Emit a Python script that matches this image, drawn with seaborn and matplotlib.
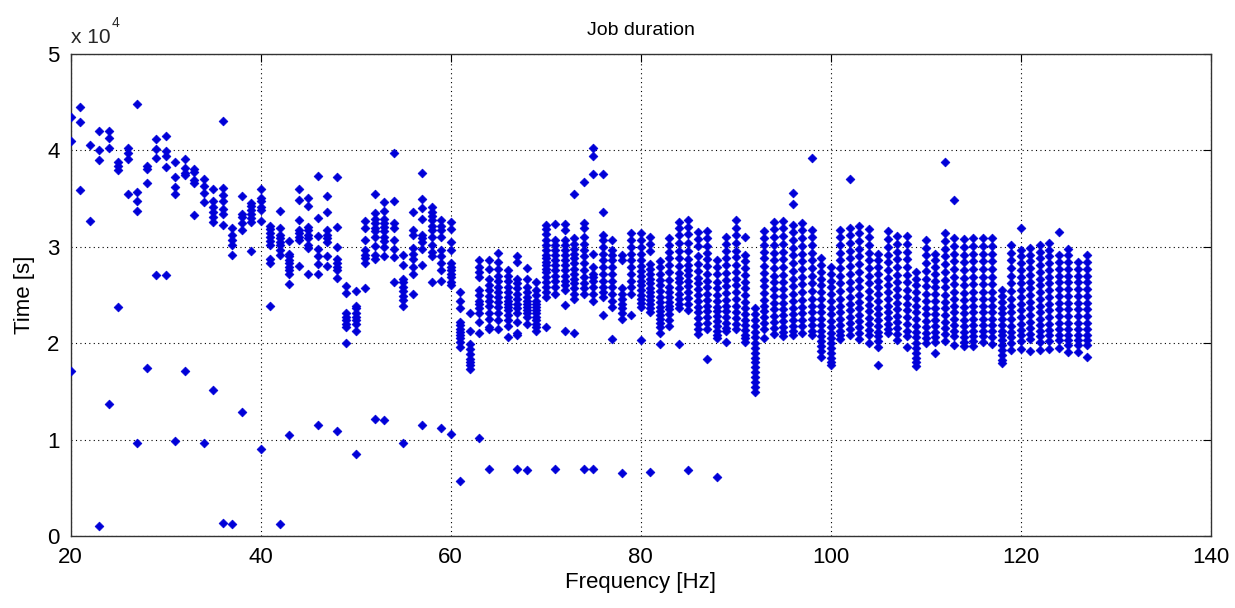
import matplotlib
matplotlib.use("Agg")
import matplotlib.pyplot as plt
import seaborn as sns
import pandas as pd

# Job durations in thousands of seconds, keyed by frequency [Hz]
times_20_39 = {
    20: [43.5, 41.0, 17.1],
    21: [44.5, 42.9, 35.9],
    22: [40.6, 32.7],
    23: [42.0, 40.0, 39.0, 1.0],
    24: [42.0, 41.3, 40.3, 13.7],
    25: [38.8, 38.4, 38.0, 23.8],
    26: [40.3, 39.7, 39.1, 35.5],
    27: [44.8, 35.7, 34.7, 33.7, 9.6],
    28: [38.4, 38.1, 36.6, 17.4],
    29: [41.2, 40.1, 39.2, 27.1],
    30: [41.5, 39.9, 39.4, 38.3, 27.1],
    31: [38.8, 37.2, 36.2, 35.5, 9.9],
    32: [39.1, 38.2, 37.7, 37.4, 17.1],
    33: [38.1, 37.8, 36.9, 36.6, 33.3],
    34: [37.0, 36.3, 35.6, 34.6, 9.7],
    35: [36.0, 34.8, 34.1, 33.6, 33.1, 32.6, 15.1],
    36: [43.1, 36.1, 35.4, 34.8, 33.9, 33.4, 32.3, 1.4],
    37: [32.0, 31.2, 30.7, 30.2, 29.1, 1.2],
    38: [35.3, 33.4, 33.1, 32.5, 31.7, 12.9],
    39: [34.5, 34.2, 33.8, 33.4, 33.0, 32.6, 29.6],
}

times_40_59 = {
    40: [36.0, 35.1, 34.7, 34.1, 33.8, 32.7, 9.0],
    41: [32.2, 31.8, 31.4, 31.0, 30.6, 30.2, 28.7, 28.3, 23.9],
    42: [33.7, 32.0, 31.2, 30.9, 30.5, 30.2, 29.7, 29.2, 1.2],
    43: [30.6, 29.3, 29.0, 28.6, 28.3, 27.9, 27.6, 27.2, 26.1, 10.5],
    44: [36.0, 34.9, 32.8, 31.7, 31.4, 31.0, 30.7, 28.0],
    45: [35.1, 34.2, 32.1, 31.7, 31.2, 30.9, 30.2, 29.9, 27.2],
    46: [37.3, 33.0, 31.1, 29.8, 29.0, 28.2, 27.2, 11.5],
    47: [35.3, 33.6, 31.7, 31.2, 30.9, 30.5, 29.0, 28.0],
    48: [37.2, 32.1, 30.0, 28.7, 28.3, 27.9, 27.6, 26.8, 10.9],
    49: [25.9, 25.2, 23.1, 22.7, 22.4, 22.0, 21.7, 20.0],
    50: [25.4, 23.9, 23.6, 23.1, 22.7, 22.4, 22.0, 21.3, 8.5],
    51: [32.7, 32.0, 30.7, 29.7, 29.2, 28.8, 28.3, 25.7],
    52: [35.5, 33.5, 32.9, 32.5, 32.0, 31.6, 31.0, 30.1, 29.1, 28.7, 12.1],
    53: [34.6, 33.7, 32.9, 32.5, 32.1, 31.6, 31.0, 30.6, 30.0, 29.0, 12.0],
    54: [39.7, 34.7, 32.5, 31.9, 30.7, 29.8, 28.9, 26.4],
    55: [29.1, 28.1, 26.7, 26.3, 25.8, 25.4, 24.9, 24.5, 23.9, 9.7],
    56: [33.6, 31.7, 31.2, 29.9, 29.3, 28.7, 27.9, 27.2, 25.1],
    57: [37.7, 35.0, 34.0, 32.9, 31.2, 30.9, 30.5, 29.8, 28.1, 11.5],
    58: [34.1, 33.6, 33.2, 32.8, 32.2, 31.7, 31.0, 30.2, 29.5, 29.0, 26.3],
    59: [32.8, 32.2, 31.7, 31.0, 29.7, 29.0, 28.3, 27.6, 26.5, 11.2],
}

times_60_79 = {
    60: [32.6, 31.8, 30.5, 29.7, 28.3, 27.9, 27.6, 27.2, 26.9, 26.4, 26.0, 10.6],
    61: [25.3, 24.4, 23.6, 22.2, 21.9, 21.5, 21.2, 20.8, 20.5, 20.1, 19.6, 5.7],
    62: [23.1, 21.3, 19.9, 19.4, 18.9, 18.4, 18.0, 17.7, 17.3],
    63: [28.6, 27.9, 27.4, 26.9, 25.5, 25.0, 24.4, 24.1, 23.6, 23.1, 22.2, 21.1, 10.2],
    64: [28.6, 27.7, 26.7, 26.0, 25.5, 24.9, 24.4, 23.9, 23.1, 22.5, 21.7, 21.5, 6.9],
    65: [29.4, 28.4, 27.7, 27.0, 26.5, 25.8, 25.3, 24.8, 24.3, 23.8, 23.1, 22.4, 21.5],
    66: [27.6, 27.0, 26.5, 25.8, 25.3, 24.8, 24.4, 24.1, 23.8, 23.4, 22.9, 22.4, 21.8, 20.6],
    67: [29.0, 28.4, 26.7, 26.2, 25.7, 25.1, 24.6, 24.1, 23.6, 23.1, 22.2, 21.1, 20.8, 6.9],
    68: [27.8, 26.7, 25.8, 25.3, 24.8, 24.4, 24.1, 23.8, 23.4, 23.1, 22.7, 22.0, 6.8],
    69: [26.3, 25.5, 25.0, 24.4, 24.1, 23.8, 23.4, 23.1, 22.7, 22.4, 22.0, 21.7, 21.3],
    70: [32.3, 31.8, 31.3, 30.7, 30.2, 29.7, 29.1, 28.8, 28.4, 28.1, 27.7, 27.4,
         26.9, 26.4, 25.8, 25.3, 24.8, 21.7],
    71: [32.4, 30.7, 30.2, 29.7, 29.1, 28.6, 28.1, 27.6, 27.0, 26.5, 25.8, 25.1, 7.0],
    72: [32.4, 31.7, 30.7, 30.2, 29.7, 29.1, 28.6, 28.1, 27.6, 27.0, 26.5, 26.0,
         25.5, 24.0, 21.3],
    73: [35.5, 30.9, 30.3, 29.8, 29.3, 28.8, 28.3, 27.7, 27.2, 26.7, 26.2, 25.7,
         25.1, 24.6, 21.1],
    74: [36.7, 32.5, 31.9, 31.0, 30.3, 29.7, 29.0, 28.3, 27.6, 26.9, 26.2, 25.7, 25.1, 7.0],
    75: [40.2, 39.4, 37.6, 29.3, 27.9, 27.2, 26.9, 26.5, 25.8, 25.1, 24.4, 6.9],
    76: [37.6, 33.6, 31.2, 30.7, 30.0, 29.3, 28.6, 27.9, 27.2, 26.5, 25.8, 25.3, 24.8, 22.9],
    77: [30.7, 29.7, 29.1, 28.6, 27.9, 27.2, 26.5, 25.8, 25.1, 24.4, 23.8, 20.4],
    78: [29.1, 28.6, 25.7, 25.1, 24.6, 24.1, 23.6, 23.1, 22.5, 6.5],
    79: [31.4, 30.7, 30.0, 29.3, 28.6, 27.9, 27.2, 26.5, 25.8, 25.1, 22.9],
}

times_80_99 = {
    80: [31.4, 30.7, 30.0, 29.3, 28.6, 28.0, 27.5, 27.0, 26.5, 26.0, 25.5, 25.0, 24.6, 24.2, 23.8, 20.3],
    81: [31.0, 30.3, 29.6, 28.2, 27.7, 27.2, 26.7, 26.2, 25.7, 25.3, 24.9, 24.5, 24.1, 23.7, 23.2, 6.6],
    82: [28.5, 27.9, 27.2, 26.6, 26.0, 25.4, 24.8, 24.3, 23.8, 23.3, 22.9, 22.5, 22.1, 21.7, 21.1, 19.9],
    83: [30.9, 30.2, 29.5, 28.8, 28.1, 27.4, 26.6, 25.8, 25.3, 24.8, 24.3, 23.9, 23.5, 23.0, 22.4, 21.8],
    84: [32.6, 31.9, 31.2, 30.4, 29.6, 28.8, 28.0, 27.3, 26.8, 26.3, 25.7, 25.1, 24.6, 24.1, 23.6, 19.9],
    85: [32.8, 32.1, 31.3, 30.4, 29.6, 28.7, 28.1, 27.6, 27.1, 26.5, 25.9, 25.3, 24.7, 24.1, 23.4, 6.8],
    86: [31.5, 30.8, 30.1, 29.0, 28.2, 27.5, 26.8, 26.2, 25.6, 25.0, 24.4, 23.8, 23.2, 22.6, 22.0, 21.5, 21.0],
    87: [31.6, 30.9, 30.1, 29.4, 28.7, 28.0, 27.2, 26.5, 25.8, 25.1, 24.5, 23.9, 23.3, 22.7, 22.1, 21.5, 18.4],
    88: [28.6, 27.9, 27.2, 26.4, 25.7, 25.0, 24.4, 23.8, 23.3, 22.8, 22.3, 21.8, 21.3, 20.9, 20.5, 6.1],
    89: [31.0, 30.3, 29.6, 28.8, 28.1, 27.3, 26.6, 25.9, 25.2, 24.5, 23.9, 23.3, 22.7, 22.1, 21.6, 21.3, 20.1],
    90: [32.8, 32.0, 31.2, 30.4, 29.6, 28.9, 28.1, 27.4, 26.7, 26.0, 25.3, 24.6, 23.9, 23.2, 22.6, 22.0, 21.5],
    91: [31.0, 29.2, 28.5, 27.8, 27.1, 26.4, 25.7, 25.0, 24.3, 23.6, 23.0, 22.4, 21.9, 21.4, 20.9, 20.5, 20.1],
    92: [23.6, 23.0, 22.4, 21.8, 21.2, 20.6, 20.0, 19.5, 19.0, 18.5, 18.0, 17.5, 17.0, 16.5, 16.0, 15.5, 14.9],
    93: [31.6, 30.9, 30.2, 29.5, 28.8, 28.0, 27.3, 26.6, 25.9, 25.2, 24.5, 23.9, 23.3, 22.7, 22.1, 21.5, 20.5],
    94: [32.6, 31.8, 31.0, 30.2, 29.4, 28.6, 27.8, 27.0, 26.3, 25.6, 24.9, 24.2, 23.5, 22.8, 22.2, 21.6, 21.0],
    95: [32.7, 31.9, 31.1, 30.3, 29.5, 28.7, 27.9, 27.1, 26.3, 25.6, 24.9, 24.2, 23.5, 22.9, 22.3, 21.7, 21.2, 20.7],
    96: [35.6, 34.4, 32.3, 31.5, 30.7, 29.9, 29.1, 28.3, 27.5, 26.7, 25.9, 25.1, 24.4, 23.7, 23.0, 22.4, 21.8, 21.3, 20.8],
    97: [32.5, 31.7, 30.9, 30.1, 29.3, 28.5, 27.7, 26.9, 26.1, 25.3, 24.5, 23.8, 23.1, 22.4, 21.8, 21.1],
    98: [39.2, 31.7, 31.0, 30.2, 29.4, 28.6, 27.8, 27.0, 26.2, 25.4, 24.6, 23.9, 23.2, 22.5, 21.9, 21.3, 20.8],
    99: [28.8, 28.1, 27.4, 26.7, 26.0, 25.3, 24.6, 23.9, 23.2, 22.5, 21.9, 21.3, 20.7, 20.2, 19.7, 19.2, 18.6],
}

times_100_127 = {
    100: [27.9, 27.2, 26.5, 25.8, 25.1, 24.4, 23.7, 23.0, 22.3, 21.7, 21.1, 20.5, 20.0, 19.5, 19.0, 18.5, 18.1, 17.7],
    101: [31.7, 31.0, 30.2, 29.4, 28.6, 27.8, 27.0, 26.2, 25.4, 24.6, 23.9, 23.2, 22.5, 21.9, 21.3, 20.8, 20.4],
    102: [37.0, 31.9, 31.2, 30.4, 29.6, 28.8, 28.0, 27.2, 26.4, 25.6, 24.8, 24.1, 23.4, 22.7, 22.1, 21.5, 20.8],
    103: [32.2, 31.4, 30.6, 29.8, 29.0, 28.2, 27.4, 26.6, 25.8, 25.0, 24.3, 23.6, 22.9, 22.3, 21.7, 21.1, 20.4],
    104: [31.8, 31.0, 30.2, 29.4, 28.6, 27.8, 27.0, 26.2, 25.4, 24.7, 24.0, 23.3, 22.6, 22.0, 21.4, 20.8, 20.0],
    105: [29.3, 28.6, 27.9, 27.2, 26.5, 25.8, 25.1, 24.4, 23.7, 23.0, 22.4, 21.8, 21.2, 20.7, 20.2, 19.6, 17.7],
    106: [31.6, 30.8, 30.0, 29.2, 28.4, 27.6, 26.8, 26.0, 25.3, 24.6, 23.9, 23.2, 22.6, 22.0, 21.5, 21.1],
    107: [31.1, 30.3, 29.5, 28.7, 27.9, 27.1, 26.3, 25.6, 24.9, 24.2, 23.5, 22.8, 22.2, 21.6, 21.0, 20.3],
    108: [31.1, 30.3, 29.5, 28.7, 27.9, 27.1, 26.3, 25.5, 24.8, 24.1, 23.4, 22.7, 22.0, 21.3, 20.7, 19.6],
    109: [27.4, 26.7, 26.0, 25.3, 24.6, 23.9, 23.2, 22.5, 21.8, 21.2, 20.6, 20.0, 19.5, 19.0, 18.5, 18.0, 17.6],
    110: [30.7, 29.9, 29.1, 28.3, 27.5, 26.7, 25.9, 25.1, 24.4, 23.7, 23.0, 22.3, 21.7, 21.1, 20.5, 20.0],
    111: [29.3, 28.6, 27.9, 27.2, 26.5, 25.8, 25.1, 24.4, 23.7, 23.0, 22.4, 21.8, 21.2, 20.6, 20.1, 19.0],
    112: [38.8, 31.4, 30.6, 29.8, 29.0, 28.2, 27.4, 26.6, 25.8, 25.0, 24.3, 23.6, 22.9, 22.2, 21.6, 21.0, 20.2],
    113: [34.9, 30.9, 30.1, 29.3, 28.5, 27.7, 26.9, 26.1, 25.3, 24.6, 23.9, 23.2, 22.5, 21.9, 21.3, 20.7, 19.8],
    114: [30.8, 30.0, 29.2, 28.4, 27.6, 26.8, 26.0, 25.2, 24.5, 23.8, 23.1, 22.4, 21.8, 21.2, 20.6, 20.1, 19.7],
    115: [30.9, 30.1, 29.3, 28.5, 27.7, 26.9, 26.1, 25.3, 24.6, 23.9, 23.2, 22.5, 21.9, 21.3, 20.7, 20.2, 19.7],
    116: [30.9, 30.1, 29.3, 28.5, 27.7, 26.9, 26.1, 25.3, 24.6, 23.9, 23.2, 22.5, 21.9, 21.3, 20.7, 20.1],
    117: [30.9, 30.1, 29.3, 28.5, 27.7, 26.9, 26.1, 25.3, 24.6, 23.9, 23.2, 22.5, 21.9, 21.3, 20.6, 19.9],
    118: [25.5, 24.9, 24.3, 23.7, 23.1, 22.5, 21.9, 21.3, 20.8, 20.3, 19.8, 19.3, 18.8, 18.3, 17.9],
    119: [30.2, 29.4, 28.6, 27.8, 27.0, 26.2, 25.4, 24.6, 23.9, 23.2, 22.5, 21.8, 21.2, 20.6, 20.0, 19.3],
    120: [32.0, 29.7, 29.0, 28.3, 27.6, 26.9, 26.2, 25.5, 24.8, 24.1, 23.4, 22.7, 22.0, 21.4, 20.8, 20.2, 19.4],
    121: [29.9, 29.2, 28.5, 27.8, 27.1, 26.4, 25.7, 25.0, 24.3, 23.6, 22.9, 22.2, 21.6, 21.0, 20.4, 19.2],
    122: [30.2, 29.5, 28.8, 28.1, 27.4, 26.7, 26.0, 25.3, 24.6, 23.9, 23.2, 22.5, 21.9, 21.3, 20.7, 20.1, 19.3],
    123: [30.4, 29.7, 29.0, 28.3, 27.6, 26.9, 26.2, 25.5, 24.8, 24.1, 23.4, 22.7, 22.0, 21.4, 20.8, 20.2, 19.4],
    124: [31.5, 29.1, 28.4, 27.7, 27.0, 26.3, 25.6, 24.9, 24.2, 23.5, 22.8, 22.1, 21.5, 20.9, 20.3, 19.5],
    125: [29.8, 29.1, 28.4, 27.7, 27.0, 26.3, 25.6, 24.9, 24.2, 23.5, 22.8, 22.1, 21.5, 20.9, 20.3, 19.8, 19.1],
    126: [28.4, 27.7, 27.0, 26.3, 25.6, 24.9, 24.2, 23.5, 22.8, 22.1, 21.5, 20.9, 20.3, 19.8, 19.1],
    127: [29.1, 28.4, 27.7, 27.0, 26.3, 25.6, 24.9, 24.2, 23.5, 22.8, 22.1, 21.5, 20.9, 20.3, 19.8, 18.6],
}

x_ticks = [20, 40, 60, 80, 100, 120, 140]
y_ticks = [0, 10000, 20000, 30000, 40000, 50000]
y_tick_labels = ["0", "1", "2", "3", "4", "5"]

# ---- build long table ----
rows = []
for band in (times_20_39, times_40_59, times_60_79, times_80_99, times_100_127):
    for f, vals in band.items():
        for v in vals:
            rows.append((f, v * 1000.0))
df = pd.DataFrame(rows, columns=["Frequency", "Time"])

sns.set_theme(style="white")
plt.rcParams["font.family"] = ["Liberation Sans", "DejaVu Sans"]

fig = plt.figure(figsize=(12.35, 6.08), dpi=100)
ax = fig.add_axes([0.0572, 0.1184, 0.9231, 0.7928])

sns.scatterplot(data=df, x="Frequency", y="Time", ax=ax, marker="D", s=20,
                color="#0000D8", edgecolor="#0000D8", linewidth=0.5, legend=False, zorder=3)

ax.set_xlim(20, 140)
ax.set_ylim(0, 50000)
ax.set_xticks(x_ticks)
ax.set_yticks(y_ticks)
ax.set_yticklabels(y_tick_labels)
ax.tick_params(axis="both", which="both", direction="in", length=6, width=0.8,
               top=True, right=True, colors="black", labelsize=16)
ax.tick_params(axis="x", pad=8)
ax.tick_params(axis="y", pad=8)
ax.grid(True, color="black", linestyle=(0, (1, 3)), linewidth=0.8, zorder=1)
for s in ax.spines.values():
    s.set_color("#333333")
    s.set_linewidth(1.0)
    s.set_visible(True)

ax.set_xlabel("Frequency [Hz]", fontsize=16, color="black", labelpad=3)
ax.set_ylabel("Time [s]", fontsize=16, color="black", labelpad=9)
ax.set_title("Job duration", fontsize=14, color="black", pad=14)

ax.text(0.0, 1.014, "x 10", transform=ax.transAxes, fontsize=15, ha="left", va="bottom")
ax.text(0.036, 1.05, "4", transform=ax.transAxes, fontsize=10, ha="left", va="bottom")

fig.savefig("out.png", dpi=100, facecolor="white")
